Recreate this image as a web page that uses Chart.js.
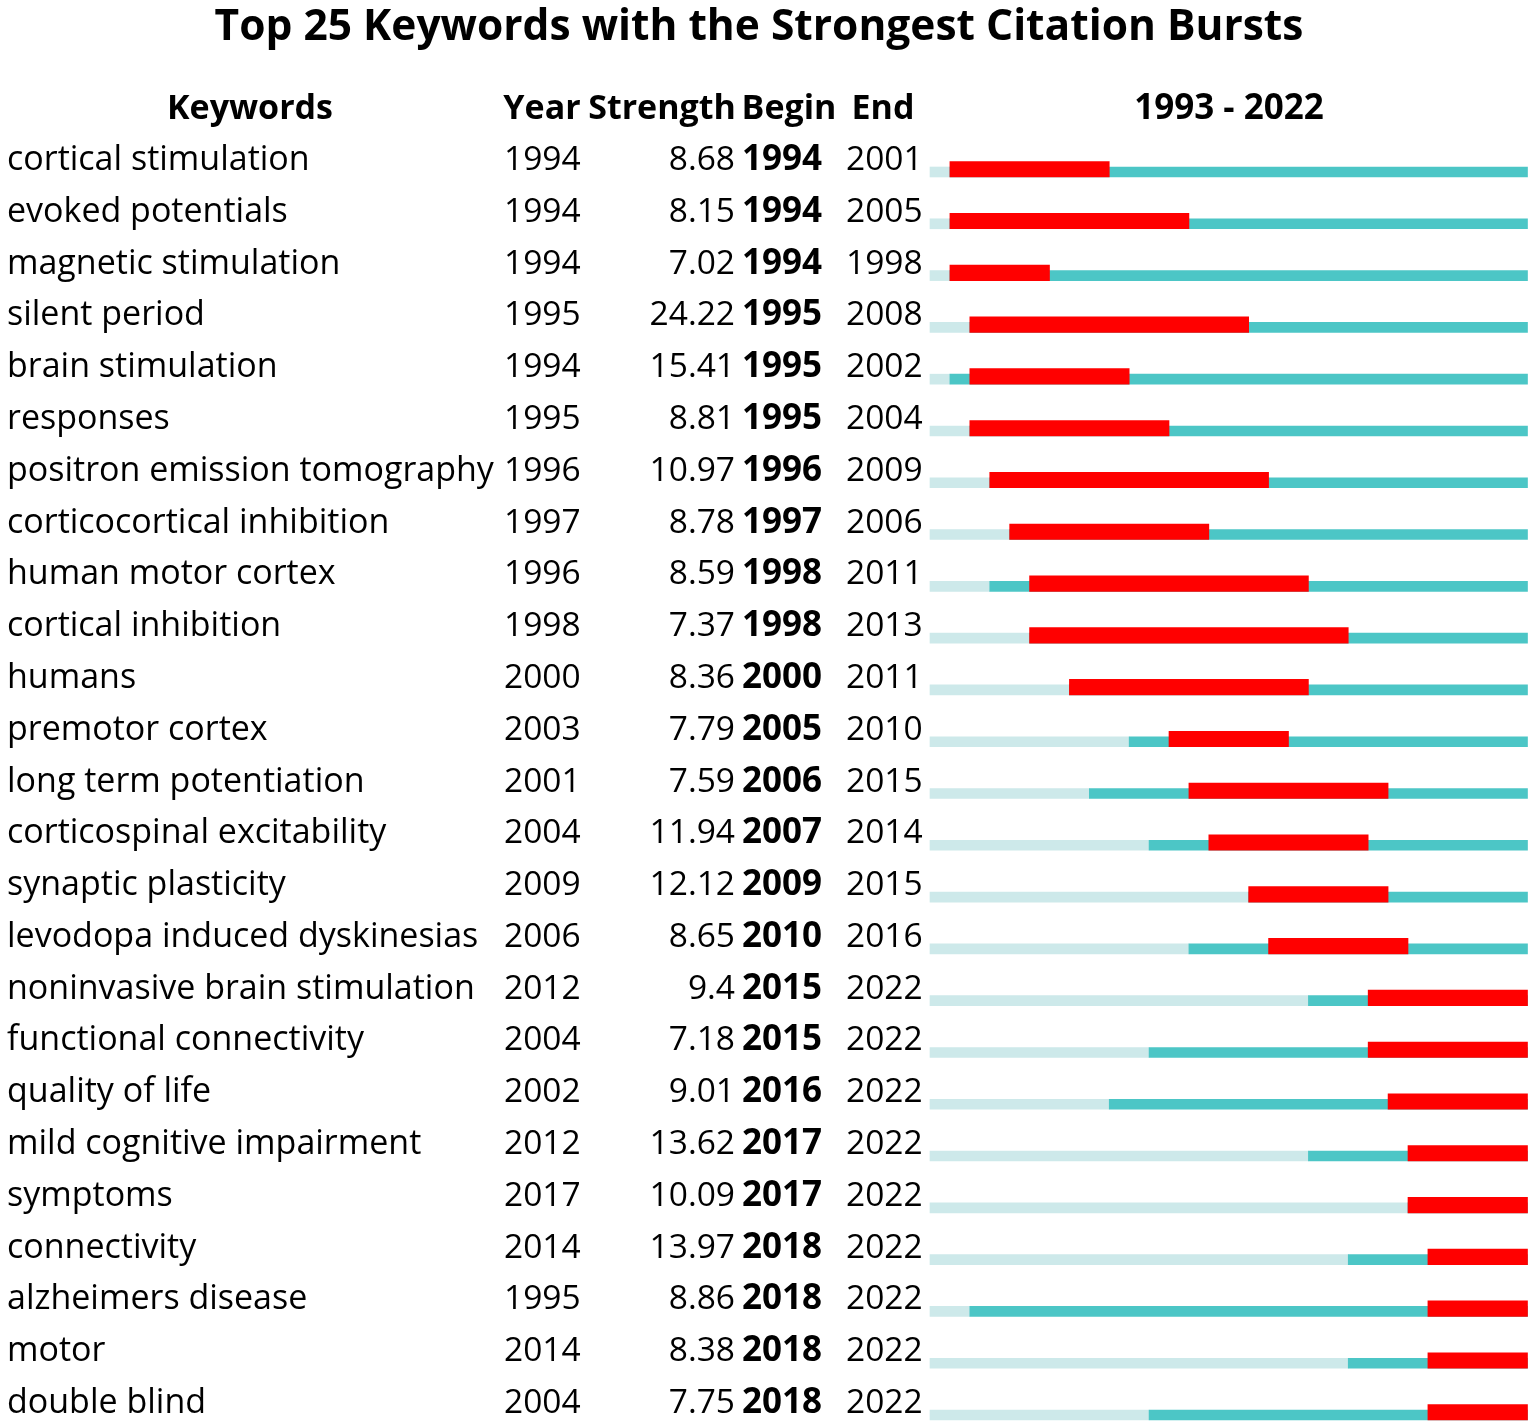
<!DOCTYPE html>
<html>
<head>
<meta charset="utf-8">
<title>Top 25 Keywords with the Strongest Citation Bursts</title>
<script src="https://cdn.jsdelivr.net/npm/chart.js@4"></script>
<style>
  html, body { margin: 0; padding: 0; background: #fff; }
  #wrap { position: relative; width: 1535px; height: 1427px; }
</style>
</head>
<body>
<div id="wrap"><canvas id="burstChart"></canvas></div>
<script>
const titleText = 'Top 25 Keywords with the Strongest Citation Bursts';
const periodStart = 1993;
const periodEnd = 2022;

const keywords = [
    'cortical stimulation', 'evoked potentials', 'magnetic stimulation', 'silent period',
    'brain stimulation', 'responses', 'positron emission tomography', 'corticocortical inhibition',
    'human motor cortex', 'cortical inhibition', 'humans', 'premotor cortex',
    'long term potentiation', 'corticospinal excitability', 'synaptic plasticity',
    'levodopa induced dyskinesias', 'noninvasive brain stimulation', 'functional connectivity',
    'quality of life', 'mild cognitive impairment', 'symptoms', 'connectivity',
    'alzheimers disease', 'motor', 'double blind'
];
const years = [1994, 1994, 1994, 1995, 1994, 1995, 1996, 1997, 1996, 1998, 2000, 2003, 2001,
               2004, 2009, 2006, 2012, 2004, 2002, 2012, 2017, 2014, 1995, 2014, 2004];
const strengths = ['8.68', '8.15', '7.02', '24.22', '15.41', '8.81', '10.97', '8.78', '8.59', '7.37',
                   '8.36', '7.79', '7.59', '11.94', '12.12', '8.65', '9.4', '7.18', '9.01', '13.62',
                   '10.09', '13.97', '8.86', '8.38', '7.75'];
const begins = [1994, 1994, 1994, 1995, 1995, 1995, 1996, 1997, 1998, 1998, 2000, 2005, 2006,
                2007, 2009, 2010, 2015, 2015, 2016, 2017, 2017, 2018, 2018, 2018, 2018];
const ends = [2001, 2005, 1998, 2008, 2002, 2004, 2009, 2006, 2011, 2013, 2011, 2010, 2015,
              2014, 2015, 2016, 2022, 2022, 2022, 2022, 2022, 2022, 2022, 2022, 2022];

document.addEventListener('DOMContentLoaded', function() {

    const FONT = '"Open Sans", "Noto Sans", sans-serif';

    // --- Table text (title, headers, columns) drawn next to the bars ---
    const tablePlugin = {
        id: 'burstTable',
        beforeDatasetDraw(chart, args) {
            // burst bar sits flush with the bottom of the thin bar
            if (args.index === 0) {
                chart.ctx.save();
                chart.ctx.translate(0, -2.75);
            }
        },
        afterDatasetDraw(chart, args) {
            if (args.index === 0) chart.ctx.restore();
        },
        afterDraw(chart) {
            const ctx = chart.ctx;
            const yScale = chart.scales.y;
            ctx.save();
            ctx.fillStyle = '#000';
            ctx.textBaseline = 'alphabetic';

            ctx.font = 'bold 42.5px ' + FONT;
            ctx.textAlign = 'center';
            ctx.fillText(titleText, 759, 40);

            ctx.font = 'bold 34px ' + FONT;
            ctx.fillText('Keywords', 250, 119);
            ctx.fillText('Year', 542, 119);
            ctx.fillText('Strength', 662, 119);
            ctx.fillText('Begin', 789, 119);
            ctx.fillText('End', 883, 119);
            ctx.font = 'bold 35px ' + FONT;
            ctx.fillText(periodStart + ' - ' + periodEnd, 1229, 119);

            keywords.forEach((kw, i) => {
                const y = yScale.getPixelForValue(i) - 2;
                ctx.font = '34px ' + FONT;
                ctx.textAlign = 'left';
                ctx.fillText(kw, 7, y);
                ctx.font = '33.5px ' + FONT;
                ctx.fillText(String(years[i]), 504, y);
                ctx.fillText(String(ends[i]), 846, y);
                ctx.textAlign = 'right';
                ctx.fillText(strengths[i], 735, y);
                ctx.font = 'bold 35px ' + FONT;
                ctx.fillText(String(begins[i]), 822, y);
            });
            ctx.restore();
        }
    };

    const ctx = document.getElementById('burstChart');
    if (!ctx) {
        console.error('Canvas element #burstChart not found!');
        return;
    }

    new Chart(ctx, {
        type: 'bar',
        data: {
            labels: keywords,
            datasets: [
                {
                    label: 'Burst',
                    data: begins.map((b, i) => [b, ends[i] + 1]),
                    backgroundColor: '#ff0000',
                    barThickness: 15.5,
                    grouped: false,
                    clip: false,
                    order: 0
                },
                {
                    label: 'Present',
                    data: years.map(y => [y, periodEnd + 1]),
                    backgroundColor: '#4cc6c6',
                    barThickness: 10,
                    grouped: false,
                    clip: false,
                    order: 1
                },
                {
                    label: 'Before',
                    data: years.map(y => [periodStart, y]),
                    backgroundColor: '#cde9ea',
                    barThickness: 10,
                    grouped: false,
                    clip: false,
                    order: 2
                }
            ]
        },
        options: {
            indexAxis: 'y',
            responsive: true,
            maintainAspectRatio: false,
            animation: false,
            events: [],
            layout: { padding: { left: 930, right: 7.5, top: 172, bottom: 12 } },
            scales: {
                x: { type: 'linear', min: periodStart, max: periodEnd + 1, display: false },
                y: { type: 'category', offset: false, display: false }
            },
            plugins: {
                legend: { display: false },
                title: { display: false },
                tooltip: { enabled: false }
            }
        },
        plugins: [tablePlugin]
    });

}); // End DOMContentLoaded
</script>
</body>
</html>
